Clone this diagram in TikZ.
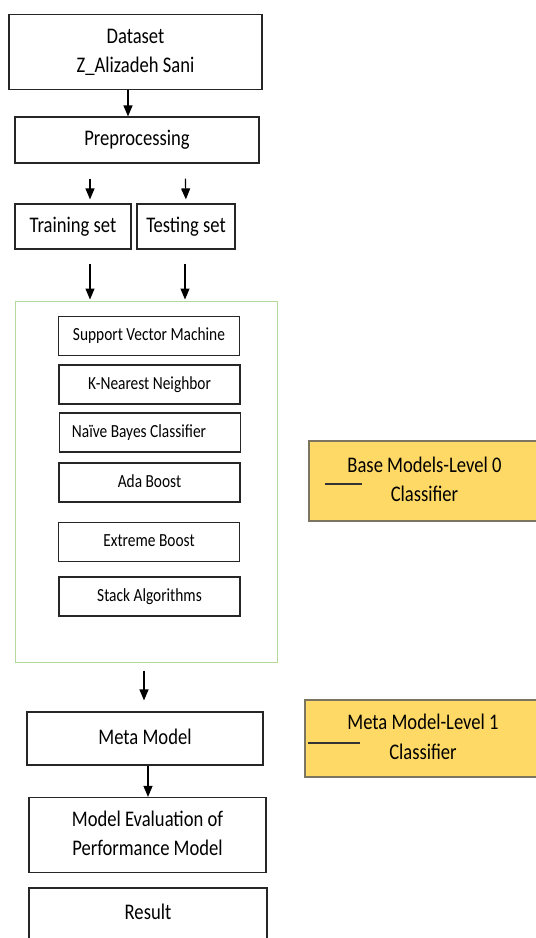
\documentclass[tikz,border=0pt]{standalone}
\usepackage{fontspec}
\usepackage{graphicx}
\setmainfont{Carlito}
\usetikzlibrary{arrows.meta}

\definecolor{lvlfill}{HTML}{FFD966}
\definecolor{lvldraw}{HTML}{7A7460}
\definecolor{grpdraw}{HTML}{B4D99C}

% taller lettering, lines centred
\newcommand{\tallbox}[1]{\scalebox{1}[1.2]{\begin{tabular}{@{}c@{}}#1\end{tabular}}}

\begin{document}
\begin{tikzpicture}[x=1pt,y=-1pt,
  box/.style={draw=black!85,line width=1.2pt,rectangle,inner sep=0pt,align=center,
    font=\fontsize{18.6}{24.5}\selectfont},
  algo/.style={box,minimum width=181pt,minimum height=39pt,font=\fontsize{15.4}{19}\selectfont},
  level/.style={box,draw=lvldraw,fill=lvlfill,minimum width=231pt},
  arr/.style={line width=1.2pt,-{Triangle[width=9pt,length=11pt]}}]

\useasboundingbox (0,0) rectangle (536,938);
\clip (0,0) rectangle (536,938);

\node[box,minimum width=253pt,minimum height=75pt] (data) at (135.5,52) {\tallbox{Dataset\\Z\_Alizadeh Sani}};
\node[box,minimum width=244pt,minimum height=46pt] (prep) at (137,140) {\tallbox{Preprocessing}};
\node[box,minimum width=116pt,minimum height=45pt] (train) at (73,226.5) {\tallbox{Training set}};
\node[box,minimum width=98pt,minimum height=45pt] (test) at (186,226.5) {\tallbox{Testing set}};

% base classifiers
\node[draw=grpdraw,line width=1pt,minimum width=262pt,minimum height=361pt] (base) at (146,481.5) {};
\node[algo] (svm) at (149,336) {\tallbox{Support Vector Machine}};
\node[algo] (knn) at (149.5,384.5) {\tallbox{K-Nearest Neighbor}};
\node[algo] (nb) at (150,432.5) {\tallbox{Naïve Bayes Classifier\hspace*{22pt}}};
\node[algo] (ada) at (149.5,482.5) {\tallbox{Ada Boost}};
\node[algo] (xgb) at (149,542) {\tallbox{Extreme Boost}};
\node[algo] (stk) at (149.5,596.5) {\tallbox{Stack Algorithms}};

\node[box,minimum width=236pt,minimum height=53pt] (meta) at (145,738.5) {\tallbox{Meta Model}};
\node[box,minimum width=237pt,minimum height=75pt] (eval) at (147.5,835) {\tallbox{Model Evaluation of\\Performance Model}};
\node[box,minimum width=238pt,minimum height=52pt] (res) at (148,914) {\tallbox{Result}};

% levels
\node[level,minimum height=80pt] (lvl0) at (424.5,481) {\tallbox{Base Models-Level 0\\Classifier}};
\node[level,minimum height=77pt,minimum width=236pt] (lvl1) at (423,738.5) {\tallbox{Meta Model-Level 1\\Classifier}};
\draw[line width=1.2pt,black!80] ([xshift=17pt,yshift=-3pt]lvl0.west) -- ++(37,0);
\draw[line width=1.2pt,black!80] ([xshift=4pt,yshift=-4.5pt]lvl1.west) -- ++(52,0);

% flow
\draw[arr] ([xshift=-7.5pt]data.south) -- ([xshift=-9pt]prep.north);
\draw[arr,shorten <=15pt,shorten >=4pt] ([xshift=-47pt]prep.south) -- ([xshift=17pt]train.north);
\draw[arr,shorten <=15pt,shorten >=4pt] ([xshift=48pt]prep.south) -- (test.north);
\draw[arr,shorten <=14pt,shorten >=1pt] ([xshift=17pt]train.south) -- ([xshift=-56pt]base.north);
\draw[arr,shorten <=14pt,shorten >=1pt] ([xshift=-1pt]test.south) -- ([xshift=39pt]base.north);
\draw[arr,shorten <=8pt,shorten >=11pt] ([xshift=-2pt]base.south) -- ([xshift=-1pt]meta.north);
\draw[arr] ([xshift=3pt]meta.south) -- ([xshift=.5pt]eval.north);

\end{tikzpicture}
\end{document}
